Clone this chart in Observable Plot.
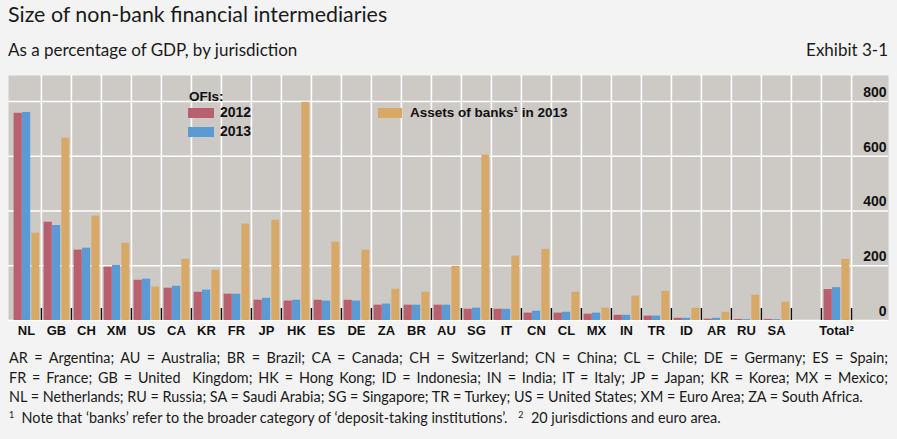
<!DOCTYPE html>
<html>
<head>
<meta charset="utf-8">
<script src="https://cdn.jsdelivr.net/npm/d3@7"></script>
<script src="https://cdn.jsdelivr.net/npm/@observablehq/plot@0.6"></script>
<style>
  html, body { margin: 0; padding: 0; background: #f3f3f3; }
  body { width: 897px; height: 439px; position: relative; overflow: hidden; font-family: Lato, "Open Sans", sans-serif; color: #1a1a1a; }
  .abs { position: absolute; white-space: nowrap; }
  #title { left: 8px; top: 1px; font-size: 21.4px; }
  #subtitle { left: 8px; top: 39px; font-size: 17px; }
  #exhibit { right: 9px; top: 39px; font-size: 17px; }
  #chart { position: absolute; left: 0; top: 70px; }
  .lg { position: absolute; font-family: "Liberation Sans", Arial, sans-serif; font-weight: bold; font-size: 13.5px; line-height: 15px; color: #111; white-space: nowrap; }
  .sw { position: absolute; }
  #notes { position: absolute; left: 9px; top: 348px; width: 879px; font-size: 14.4px; line-height: 19.6px; }
  #notes div { white-space: normal; }
  .just { text-align: justify; text-align-last: justify; }
  sup { font-size: 9px; vertical-align: 5px; line-height: 0; }
</style>
</head>
<body>
<div id="title" class="abs">Size of non-bank financial intermediaries</div>
<div id="subtitle" class="abs">As a percentage of GDP, by jurisdiction</div>
<div id="exhibit" class="abs">Exhibit 3-1</div>
<div id="chart"></div>
<div id="legend"></div>
<div id="notes">
  <div class="just">AR = Argentina; AU = Australia; BR = Brazil; CA = Canada; CH = Switzerland; CN = China; CL = Chile; DE = Germany; ES = Spain;</div>
  <div class="just">FR = France; GB = United &nbsp;Kingdom; HK = Hong Kong; ID = Indonesia; IN = India; IT = Italy; JP = Japan; KR = Korea; MX = Mexico;</div>
  <div>NL = Netherlands; RU = Russia; SA = Saudi Arabia; SG = Singapore; TR = Turkey; US = United States; XM = Euro Area; ZA = South Africa.</div>
  <div style="margin-top:1px"><sup>1</sup>&nbsp; Note that ‘banks’ refer to the broader category of ‘deposit-taking institutions’. &nbsp;&nbsp;<sup>2</sup>&nbsp; 20 jurisdictions and euro area.</div>
</div>
<script>
// ---- data ----
const jurisdictions = ["NL","GB","CH","XM","US","CA","KR","FR","JP","HK","ES","DE","ZA","BR","AU","SG","IT","CN","CL","MX","IN","TR","ID","AR","RU","SA","Total"];
const ofis2012 = [757,359,257,195,147,118,103,96,74,71,74,74,56,56,56,41,41,27,27,23,19,16,8,5,4,4,113];
const ofis2013 = [760,347,264,201,151,125,111,96,81,74,71,71,60,56,56,45,41,34,30,27,19,16,8,8,3,3,120];
const banks2013 = [319,666,381,282,122,224,184,352,366,797,286,257,114,103,198,604,235,260,103,45,89,107,45,30,92,67,223];
const xDomain = [...jurisdictions.slice(0, 26), " ", "Total"];
const yTicks = [0, 200, 400, 600, 800];
const seriesLabels = ["2012", "2013"];
const bankLabel = "Assets of banks";

const colors = { red: "#b8606f", blue: "#5b9bd5", orange: "#d8a867", panel: "#cdc9c5" };

const rows = jurisdictions.map((j, i) => ({ j, a: ofis2012[i], b: ofis2013[i], c: banks2013[i] }));

const W = 897, H = 275, mTop = 5, mBottom = 25, left = 8, plotRight = 853;
const step = (plotRight - left) / xDomain.length;
const frameH = H - mTop - mBottom;
const boundaries = xDomain.slice(1);

const chart = Plot.plot({
  width: W, height: H,
  marginLeft: left, marginRight: W - 888, marginTop: mTop, marginBottom: mBottom,
  style: { background: "transparent", overflow: "visible" },
  x: { type: "band", domain: xDomain, range: [left, plotRight], padding: 0, axis: null, label: null },
  y: { domain: [0, 895], axis: null, label: null },
  marks: [
    Plot.frame({ fill: colors.panel, stroke: null }),
    Plot.gridY(yTicks, { stroke: "white", strokeOpacity: 1, strokeWidth: 1.6 }),
    Plot.ruleX(boundaries, { x: d => d, dx: -step / 2, stroke: "white", strokeWidth: 1.6 }),
    Plot.ruleX(["Total"], { x: d => d, dx: step / 2, stroke: "white", strokeWidth: 1.6 }),
    Plot.barY(rows, { x: "j", y: "a", fill: colors.red, insetLeft: 2.6, insetRight: step - 11 }),
    Plot.barY(rows, { x: "j", y: "b", fill: colors.blue, insetLeft: 11, insetRight: step - 19.4 }),
    Plot.barY(rows, { x: "j", y: "c", fill: colors.orange, insetLeft: 20.4, insetRight: step - 28.4 }),
    Plot.ruleX(boundaries, { x: d => d, dx: -step / 2, stroke: "#111", strokeWidth: 1.4, insetTop: frameH - 12 }),
    Plot.ruleX(["Total"], { x: d => d, dx: step / 2, stroke: "#111", strokeWidth: 1.4, insetTop: frameH - 12 }),
    Plot.axisX(xDomain, { tickSize: 0, tickPadding: 5, fontWeight: "bold", fontSize: 13, label: null,
      tickFormat: d => d === "Total" ? "Total²" : d, fill: "#111" }),
    Plot.text(yTicks, { y: d => d, text: d => String(d), frameAnchor: "right", dx: -2, dy: -9,
      textAnchor: "end", fontWeight: "bold", fontSize: 14, fill: "#111" })
  ]
});
chart.setAttribute("font-family", "Liberation Sans, Arial, sans-serif");
document.getElementById("chart").appendChild(chart);

// ---- legend ----
const lg = document.getElementById("legend");
function add(html, cls, css) { const d = document.createElement("div"); d.className = cls; d.innerHTML = html; d.style.cssText = css; lg.appendChild(d); }
add("OFIs:", "lg", "left:189px; top:89px;");
add("", "sw", `left:188px; top:108px; width:26px; height:10px; background:${colors.red}`);
add(seriesLabels[0], "lg", "left:220px; top:105px; font-size:14px;");
add("", "sw", `left:188px; top:127px; width:26px; height:10px; background:${colors.blue}`);
add(seriesLabels[1], "lg", "left:220px; top:124px; font-size:14px;");
add("", "sw", `left:378px; top:108px; width:24px; height:10px; background:${colors.orange}`);
add(bankLabel + '<sup style="font-size:8px;vertical-align:5px">1</sup> in 2013', "lg", "left:410px; top:105px;");
</script>
</body>
</html>
